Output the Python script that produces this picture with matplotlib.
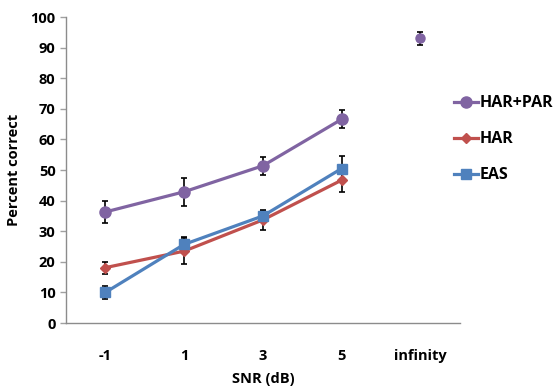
import numpy as np
from matplotlib import pyplot as plt

plt.rcParams['font.family'] = ['Open Sans', 'DejaVu Sans']
plt.rcParams['font.weight'] = 'bold'

snr = ['-1', '1', '3', '5', 'infinity']

harpar = [36.3, 42.9, 51.4, 66.6]
harpar_err = [3.6, 4.6, 3.0, 3.0]
har = [18.1, 23.5, 33.7, 46.7]
har_err = [2.0, 4.3, 3.3, 4.0]
eas = [10.0, 25.7, 35.0, 50.5]
eas_err = [2.0, 2.5, 1.5, 4.0]
infinity_val = 93.0
infinity_err = 2.0

series = [
    ('HAR+PAR', harpar, harpar_err, '#8064A2', 'o', 8),
    ('HAR', har, har_err, '#C0504D', 'D', 5.5),
    ('EAS', eas, eas_err, '#4F81BD', 's', 6.5),
]

fig = plt.figure(figsize=(5.56, 3.88), dpi=100)
ax = fig.add_axes([0.1187, 0.1675, 0.7083, 0.7885])

x = np.arange(4)
for name, vals, err, col, mk, ms in series:
    ax.errorbar(x, vals, yerr=err, fmt='none', ecolor='black', elinewidth=1.2,
                capsize=2.5, capthick=1.2, zorder=2)
    ax.plot(x, vals, color=col, marker=mk, markersize=ms, linewidth=2.3,
            label=name, zorder=3)

# infinity condition: markers overlap
ax.errorbar([4], [infinity_val], yerr=infinity_err, fmt='none', ecolor='black',
            elinewidth=1.2, capsize=2.5, capthick=1.2, zorder=2)
for name, vals, err, col, mk, ms in series[::-1]:
    ax.plot([4], [infinity_val], color=col, marker=mk, markersize=ms - 1.5, zorder=3)

ax.set_xlim(-0.5, 4.5)
ax.set_ylim(0, 100)
ax.set_yticks(np.arange(0, 101, 10))
ax.set_xticks(range(5))
ax.set_xticklabels(snr, fontsize=10.5, fontweight='bold')
ax.tick_params(axis='y', labelsize=10.5, color='#a0a0a0', length=4, width=1)
ax.tick_params(axis='x', length=0, pad=19)
for lab in ax.get_yticklabels():
    lab.set_fontweight('bold')

for s in ['top', 'right']:
    ax.spines[s].set_visible(False)
for s in ['left', 'bottom']:
    ax.spines[s].set_color('#8c8c8c')
    ax.spines[s].set_linewidth(1)

ax.set_xlabel('SNR (dB)', fontsize=10.5, fontweight='bold', labelpad=6)
ax.set_ylabel('Percent correct', fontsize=10.5, fontweight='bold', labelpad=7)

ax.legend(loc='upper left', bbox_to_anchor=(0.97, 0.765), frameon=False,
          prop={'weight': 'bold', 'size': 11.5}, handlelength=1.5,
          handletextpad=0.1, labelspacing=1.25, borderaxespad=0)

plt.savefig('out.png', dpi=100)
